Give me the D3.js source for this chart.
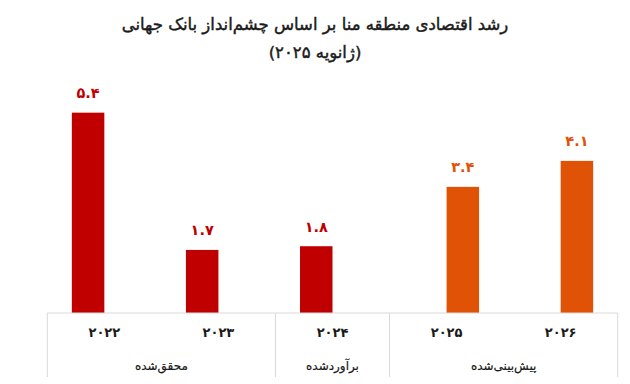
<!DOCTYPE html>
<html lang="fa">
<head>
<meta charset="utf-8">
<script src="https://cdn.jsdelivr.net/npm/d3@7/dist/d3.min.js"></script>
<style>
  html, body { margin: 0; padding: 0; background: #fff; }
  svg { display: block; font-family: "DejaVu Sans", "Noto Sans", sans-serif; }
</style>
</head>
<body>
<svg id="chart" width="630" height="384"></svg>
<script>
// ---- data ----
const titleLines = ["رشد اقتصادی منطقه منا بر اساس چشم‌انداز بانک جهانی", "(ژانویه ۲۰۲۵)"];
const years = ["2022", "2023", "2024", "2025", "2026"];
const actualValues = [5.4, 1.7, 1.8, null, null];     // محقق‌شده / برآوردشده
const forecastValues = [null, null, null, 3.4, 4.1];  // پیش‌بینی‌شده
const groupLabels = ["محقق‌شده", "برآوردشده", "پیش‌بینی‌شده"];
const groupSizes = [2, 1, 2];
const seriesNames = ["actual", "forecast"];
const yMax = 6;

// ---- helpers ----
const faDigits = "۰۱۲۳۴۵۶۷۸۹";
const toFa = s => String(s).replace(/[0-9]/g, d => faDigits[+d]);

const svg = d3.select("#chart");
const W = 630, H = 384;
const left = 47.3, right = 617.7, baseY = 313, tableBottom = 377;
const colors = { actual: "#C00000", forecast: "#E05206" };
const gridColor = "#d9d9d9";

const x = d3.scaleBand().domain(years).range([left, right]).paddingInner(0).paddingOuter(0);
const xs = d3.scaleBand().domain(seriesNames).range([0, x.bandwidth()]).paddingInner(0).paddingOuter(0.755);
const y = d3.scaleLinear().domain([0, yMax]).range([baseY, baseY - 6 * 37.1]);

// ---- title ----
const title = svg.append("g").attr("direction", "rtl");
title.selectAll("text").data(titleLines).join("text")
  .attr("x", W / 2)
  .attr("y", (d, i) => 30 + i * 28)
  .attr("text-anchor", "middle")
  .attr("direction", "rtl")
  .attr("font-size", 16.5)
  .attr("fill", "#1a1a1a")
  .attr("stroke", "#1a1a1a")
  .attr("stroke-width", 0.45)
  .text(d => d);

// ---- bars ----
const seriesData = seriesNames.map(s => ({
  key: s,
  values: years.map((yr, i) => ({ year: yr, value: (s === "actual" ? actualValues : forecastValues)[i] }))
    .filter(d => d.value != null)
}));

const sg = svg.selectAll("g.series").data(seriesData).join("g").attr("class", "series");
sg.selectAll("rect").data(d => d.values.map(v => ({ ...v, key: d.key }))).join("rect")
  .attr("x", d => x(d.year) + xs(d.key))
  .attr("width", xs.bandwidth())
  .attr("y", d => y(d.value))
  .attr("height", d => y(0) - y(d.value))
  .attr("fill", d => colors[d.key]);

sg.selectAll("text").data(d => d.values.map(v => ({ ...v, key: d.key }))).join("text")
  .attr("x", d => x(d.year) + xs(d.key) + xs.bandwidth() / 2)
  .attr("y", d => y(d.value) - 14.5)
  .attr("text-anchor", "middle")
  .attr("font-size", 14.5)
  .attr("font-weight", "bold")
  .attr("fill", d => colors[d.key])
  .text(d => toFa(d.value.toFixed(1)));

// ---- category axis (multi-level table) ----
const axis = svg.append("g");
axis.append("line")
  .attr("x1", left).attr("x2", right).attr("y1", baseY).attr("y2", baseY)
  .attr("stroke", gridColor).attr("stroke-width", 1);

// group boundaries
let idx = 0;
const groups = groupLabels.map((g, i) => {
  const start = idx; idx += groupSizes[i];
  const x0 = x(years[start]);
  const x1 = x(years[idx - 1]) + x.bandwidth();
  return { label: g, x0, x1 };
});
const bounds = [groups[0].x0, ...groups.map(g => g.x1)];
axis.selectAll("line.div").data(bounds).join("line")
  .attr("class", "div")
  .attr("x1", d => d).attr("x2", d => d)
  .attr("y1", baseY).attr("y2", tableBottom)
  .attr("stroke", gridColor).attr("stroke-width", 1);

axis.selectAll("text.year").data(years).join("text")
  .attr("class", "year")
  .attr("x", d => x(d) + x.bandwidth() / 2)
  .attr("y", 337)
  .attr("text-anchor", "middle")
  .attr("font-size", 13)
  .attr("font-weight", "bold")
  .attr("fill", "#1a1a1a")
  .text(d => toFa(d));

axis.selectAll("text.group").data(groups).join("text")
  .attr("class", "group")
  .attr("x", d => (d.x0 + d.x1) / 2)
  .attr("y", 370)
  .attr("text-anchor", "middle")
  .attr("direction", "rtl")
  .attr("font-size", 12)
  .attr("fill", "#1a1a1a")
  .attr("stroke", "#1a1a1a")
  .attr("stroke-width", 0.2)
  .text(d => d.label);
</script>
</body>
</html>
